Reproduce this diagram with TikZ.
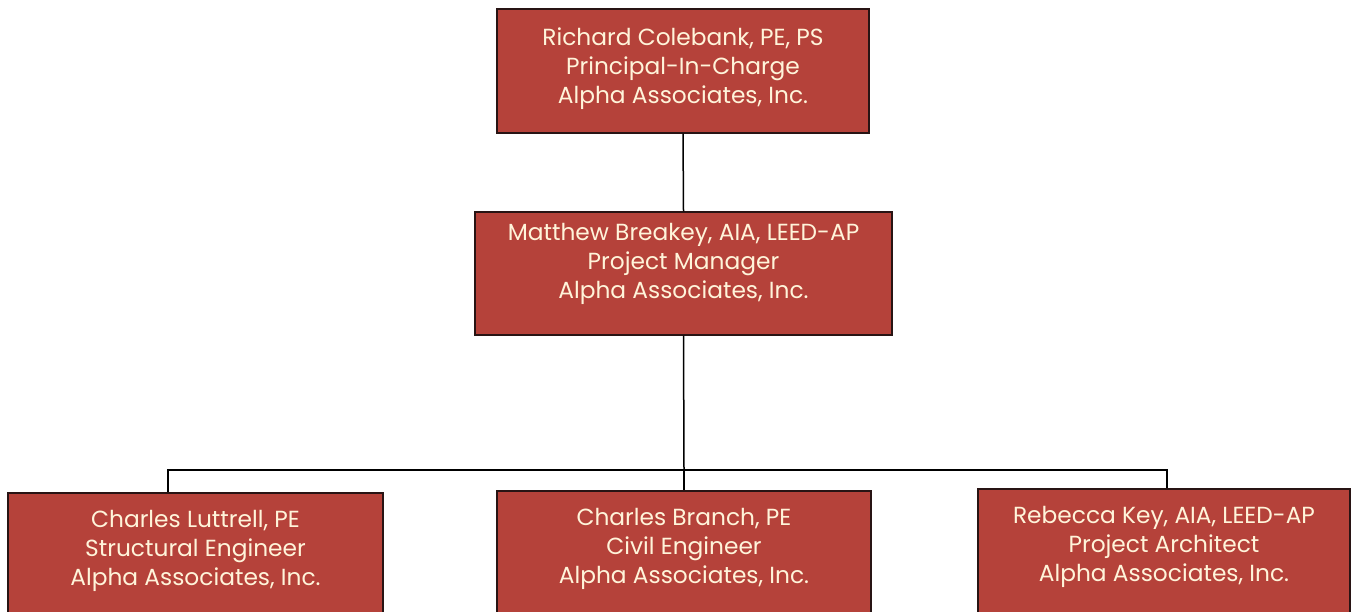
\documentclass[tikz,border=0pt]{standalone}
\usepackage{fontspec}
\setmainfont{Poppins}
\definecolor{boxred}{RGB}{181,66,58}
\definecolor{boxtext}{RGB}{255,244,218}
\definecolor{edgecol}{RGB}{40,20,20}
\begin{document}
\begin{tikzpicture}[x=1pt,y=-1pt,
  person/.style={draw=edgecol, line width=1.4pt, fill=boxred, inner sep=0pt},
  lbl/.style={align=center, text=boxtext, inner sep=0pt,
    font=\fontsize{23.3}{29}\selectfont},
  link/.style={draw=black, line width=1.5pt}]
\useasboundingbox (0,0) rectangle (1356,611);
\fill[white] (0,0) rectangle (1356,611);
\node[person, minimum width=372pt, minimum height=124pt,
  label={[lbl, yshift=2pt]center:{Richard Colebank, PE, PS\\Principal-In-Charge\\Alpha Associates, Inc.}}]
  (rc) at (683,71) {};
\node[person, minimum width=417pt, minimum height=123pt,
  label={[lbl, yshift=10pt]center:{Matthew Breakey, AIA, LEED-AP\\Project Manager\\Alpha Associates, Inc.}}]
  (mb) at (683.5,273.5) {};
\node[person, minimum width=375pt, minimum height=124pt,
  label={[lbl, yshift=4pt]center:{Charles Luttrell, PE\\Structural Engineer\\Alpha Associates, Inc.}}]
  (cl) at (195.5,555) {};
\node[person, minimum width=374pt, minimum height=124pt,
  label={[lbl, yshift=4pt]center:{Charles Branch, PE\\Civil Engineer\\Alpha Associates, Inc.}}]
  (cb) at (684,553) {};
\node[person, minimum width=372pt, minimum height=124pt,
  label={[lbl, yshift=4pt]center:{Rebecca Key, AIA, LEED-AP\\Project Architect\\Alpha Associates, Inc.}}]
  (rk) at (1164,551) {};
\coordinate (bus) at (684,470);
\draw[link] (rc.south) -- (mb.north);
\draw[link] (mb.south) -- (bus);
\draw[link] (cl.north -| 168,0) -- (168,470) -- (1167,470) -- (rk.north -| 1167,0);
\draw[link] (bus) -- (cb.north);
\end{tikzpicture}
\end{document}
